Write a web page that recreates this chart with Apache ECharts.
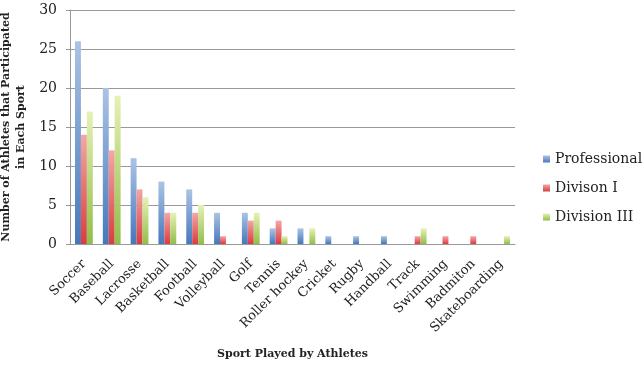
<!DOCTYPE html>
<html>
<head>
<meta charset="utf-8">
<script src="https://cdn.jsdelivr.net/npm/echarts@6/dist/echarts.min.js"></script>
<style>
  html, body { margin: 0; padding: 0; background: #fff; }
  #chart { width: 643px; height: 366px; }
</style>
</head>
<body>
<div id="chart"></div>
<script>
const sports = ["Soccer", "Baseball", "Lacrosse", "Basketball", "Football", "Volleyball", "Golf", "Tennis",
  "Roller hockey", "Cricket", "Rugby", "Handball", "Track", "Swimming", "Badmiton", "Skateboarding"];
const professional = [26, 20, 11, 8, 7, 4, 4, 2, 2, 1, 1, 1, 0, 0, 0, 0];
const divisionI = [14, 12, 7, 4, 4, 1, 3, 3, 0, 0, 0, 0, 1, 1, 1, 0];
const divisionIII = [17, 19, 6, 4, 5, 0, 4, 1, 2, 0, 0, 0, 2, 0, 0, 1];
const yTicks = [0, 5, 10, 15, 20, 25, 30];

const font = "DejaVu Serif";

function grad(top, bottom) {
  return new echarts.graphic.LinearGradient(0, 0, 0, 1, [
    { offset: 0, color: top },
    { offset: 1, color: bottom }
  ]);
}

const chart = echarts.init(document.getElementById("chart"));
const option = {
  animation: false,
  textStyle: { fontFamily: font },
  grid: { left: 70, right: 128, top: 10, bottom: 122, outerBoundsMode: "none" },
  legend: {
    orient: "vertical",
    left: 538,
    top: 147,
    itemWidth: 7,
    itemHeight: 7,
    itemGap: 15,
    icon: "rect",
    textStyle: { fontFamily: font, fontSize: 14, color: "#222" },
    data: ["Professional", "Divison I", "Division III"]
  },
  xAxis: {
    type: "category",
    data: sports,
    name: "Sport Played by Athletes",
    nameLocation: "middle",
    nameGap: 105,
    nameTextStyle: { fontFamily: font, fontWeight: "bold", fontSize: 11, color: "#222" },
    axisLine: { lineStyle: { color: "#999" } },
    axisTick: { show: false },
    axisLabel: { rotate: 45, fontSize: 13, color: "#222", margin: 18, interval: 0 }
  },
  yAxis: {
    type: "value",
    min: yTicks[0],
    max: yTicks[yTicks.length - 1],
    interval: 5,
    name: "Number of Athletes that Participated\nin Each Sport",
    nameLocation: "middle",
    nameGap: 39,
    nameTextStyle: { fontFamily: font, fontWeight: "bold", fontSize: 11, color: "#222", lineHeight: 15 },
    axisLine: { show: true, lineStyle: { color: "#999" } },
    axisTick: { show: true, length: 4, lineStyle: { color: "#999" } },
    splitLine: { lineStyle: { color: "#999" } },
    axisLabel: { fontSize: 14, color: "#222", margin: 13 }
  },
  series: [
    {
      name: "Professional",
      type: "bar",
      data: professional,
      barGap: "0%",
      barCategoryGap: "36%",
      itemStyle: { color: grad("#abc3e4", "#4578bb") }
    },
    {
      name: "Divison I",
      type: "bar",
      data: divisionI,
      itemStyle: { color: grad("#f3a7a6", "#d93c42") }
    },
    {
      name: "Division III",
      type: "bar",
      data: divisionIII,
      itemStyle: { color: grad("#e6f1b6", "#92be48") }
    }
  ]
};
chart.setOption(option);
</script>
</body>
</html>
